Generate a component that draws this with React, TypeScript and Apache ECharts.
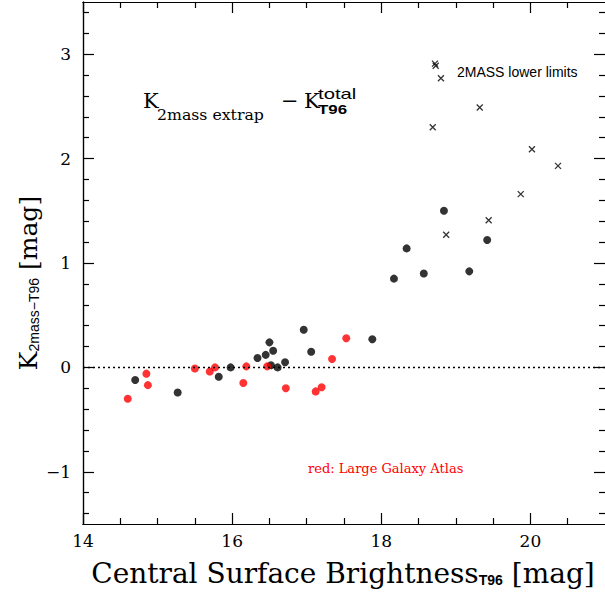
import React, { useEffect, useRef } from "react";
import * as echarts from "echarts";

const SERIF = "'DejaVu Serif', serif";
const SANS = "'Liberation Sans', Arial, sans-serif";

// Axis ranges and tick positions
const X_MIN = 14;
const X_MAX = 21;
const Y_MIN = -1.5;
const Y_MAX = 3.5;
const xMajorTicks = [14, 16, 18, 20];
const yMajorTicks = [-1, 0, 1, 2, 3];
const xMinorTicks = [14.5, 15, 15.5, 16.5, 17, 17.5, 18.5, 19, 19.5, 20.5];
const yMinorTicks = [
  -1.4, -1.2, -0.8, -0.6, -0.4, -0.2, 0.2, 0.4, 0.6, 0.8, 1.2, 1.4, 1.6, 1.8,
  2.2, 2.4, 2.6, 2.8, 3.2, 3.4,
];

// T96 galaxies with 2MASS extrapolated magnitudes (black)
const t96Mu = [
  14.7, 15.27, 15.82, 15.98, 16.34, 16.45, 16.5, 16.55, 16.52, 16.61, 16.71,
  16.96, 17.06, 17.88, 18.17, 18.34, 18.57, 18.84, 19.18, 19.42,
];
const t96Dk = [
  -0.12, -0.24, -0.09, 0.0, 0.09, 0.12, 0.24, 0.16, 0.02, 0.0, 0.05, 0.36,
  0.15, 0.27, 0.85, 1.14, 0.9, 1.5, 0.92, 1.22,
];

// Large Galaxy Atlas magnitudes (red)
const lgaMu = [
  14.6, 14.85, 14.87, 15.5, 15.7, 15.77, 16.15, 16.19, 16.47, 16.72, 17.12,
  17.2, 17.34, 17.53,
];
const lgaDk = [
  -0.3, -0.06, -0.17, -0.01, -0.04, 0.0, -0.15, 0.01, 0.01, -0.2, -0.23,
  -0.19, 0.08, 0.28,
];

// 2MASS lower limits (crosses)
const limMu = [
  18.72, 18.73, 18.8, 19.32, 18.69, 20.02, 20.37, 19.87, 19.44, 18.87,
];
const limDk = [2.91, 2.89, 2.77, 2.49, 2.3, 2.09, 1.93, 1.66, 1.41, 1.27];

const pairs = (xs: number[], ys: number[]) => xs.map((x, i) => [x, ys[i]]);

const lineStyle = { color: "#000", width: 1.2 };

function makeAxis(
  position: string,
  ticks: number[],
  len: number,
  min: number,
  max: number,
  labels: boolean,
  isY: boolean,
  showLine = true
) {
  return {
    type: "value",
    position,
    min,
    max,
    axisLine: { show: showLine, onZero: false, lineStyle },
    axisTick: {
      show: true,
      inside: true,
      length: len,
      customValues: ticks,
      lineStyle,
    },
    axisLabel: labels
      ? {
          show: true,
          customValues: ticks,
          fontFamily: SERIF,
          fontSize: 17,
          color: "#000",
          margin: isY ? 12 : 8,
          formatter: (v: number) => (v < 0 ? "\u2212" + Math.abs(v) : String(v)),
        }
      : { show: false },
    splitLine: { show: false },
    minorTick: { show: false },
  };
}

export default function App() {
  const ref = useRef<HTMLDivElement>(null);

  useEffect(() => {
    if (!ref.current) return;
    const chart = echarts.init(ref.current, undefined, { renderer: "svg" });

    // Annotation texts inside the frame (sx = horizontal stretch)
    const texts = [
      { t: "K", x: 143, y: 100.5, f: `21px ${SERIF}`, sx: 1 },
      { t: "2mass extrap", x: 157, y: 115, f: `15px ${SERIF}`, sx: 1.05 },
      { t: "\u2212", x: 281, y: 101, f: `21px ${SERIF}`, sx: 1 },
      { t: "K", x: 304, y: 100.5, f: `21px ${SERIF}`, sx: 1 },
      { t: "total", x: 318, y: 94, f: `14px ${SANS}`, sx: 1.45 },
      { t: "T96", x: 318, y: 109.5, f: `bold 13px ${SANS}`, sx: 1.3 },
      { t: "2MASS lower limits", x: 457, y: 72, f: `14px ${SANS}`, sx: 1 },
    ];

    const option = {
      animation: false,
      backgroundColor: "#fff",
      grid: { left: 83, top: 2, width: 522, height: 522 },
      xAxis: [
        makeAxis("bottom", xMajorTicks, 11, X_MIN, X_MAX, true, false),
        makeAxis("bottom", xMinorTicks, 6, X_MIN, X_MAX, false, false),
        makeAxis("top", xMajorTicks, 11, X_MIN, X_MAX, false, false),
        makeAxis("top", xMinorTicks, 6, X_MIN, X_MAX, false, false),
      ],
      yAxis: [
        makeAxis("left", yMajorTicks, 11, Y_MIN, Y_MAX, true, true),
        makeAxis("left", yMinorTicks, 6, Y_MIN, Y_MAX, false, true),
        makeAxis("right", yMajorTicks, 11, Y_MIN, Y_MAX, false, true, false),
        makeAxis("right", yMinorTicks, 6, Y_MIN, Y_MAX, false, true, false),
      ],
      series: [
        {
          type: "scatter",
          data: [],
          z: 1,
          markLine: {
            silent: true,
            symbol: "none",
            label: { show: false },
            lineStyle: { color: "#000", width: 1.3, type: [2, 3] },
            data: [{ yAxis: 0 }],
          },
        },
        {
          name: "T96",
          type: "scatter",
          data: pairs(t96Mu, t96Dk),
          symbol: "circle",
          symbolSize: 8,
          itemStyle: { color: "#000" },
          z: 3,
        },
        {
          name: "LGA",
          type: "scatter",
          data: pairs(lgaMu, lgaDk),
          symbol: "circle",
          symbolSize: 8,
          itemStyle: { color: "#ff0000" },
          z: 3,
        },
        {
          name: "2MASS lower limits",
          type: "scatter",
          data: pairs(limMu, limDk),
          symbol: "path://M0 0L10 10M10 0L0 10",
          symbolSize: 6,
          itemStyle: { color: "none", borderColor: "#000", borderWidth: 1.3 },
          z: 3,
        },
      ],
      graphic: [
        ...texts.map((d) => ({
          type: "text",
          x: d.x,
          y: d.y,
          scaleX: d.sx,
          silent: true,
          style: {
            text: d.t,
            font: d.f,
            fill: "#000",
            textAlign: "left",
            textVerticalAlign: "middle",
          },
        })),
        {
          type: "text",
          x: 308,
          y: 468,
          silent: true,
          style: {
            text: "red: Large Galaxy Atlas",
            font: `13px ${SERIF}`,
            fill: "#ff0000",
            textAlign: "left",
            textVerticalAlign: "middle",
          },
        },
        // x-axis title
        {
          type: "text",
          x: 343,
          y: 572,
          silent: true,
          style: {
            text: "{a|Central Surface Brightness}{s|T96}{a| [mag]}",
            textAlign: "center",
            textVerticalAlign: "middle",
            rich: {
              a: {
                fontFamily: SERIF,
                fontSize: 28,
                lineHeight: 30,
                verticalAlign: "bottom",
                fill: "#000",
              },
              s: {
                fontFamily: SANS,
                fontSize: 14,
                fontWeight: "bold",
                lineHeight: 8,
                verticalAlign: "bottom",
                fill: "#000",
              },
            },
          },
        },
        // y-axis title
        {
          type: "text",
          x: 27,
          y: 283,
          rotation: Math.PI / 2,
          silent: true,
          style: {
            text: "{a|K}{s|2mass\u2212T96}{a| [mag]}",
            textAlign: "center",
            textVerticalAlign: "middle",
            rich: {
              a: {
                fontFamily: SERIF,
                fontSize: 25,
                lineHeight: 28,
                verticalAlign: "bottom",
                fill: "#000",
              },
              s: {
                fontFamily: SANS,
                fontSize: 14,
                lineHeight: 8,
                verticalAlign: "bottom",
                fill: "#000",
              },
            },
          },
        },
      ],
    };

    chart.setOption(option as any);
    return () => chart.dispose();
  }, []);

  return (
    <div
      ref={ref}
      style={{ position: "absolute", left: 0, top: 0, width: 605, height: 592 }}
    />
  );
}
